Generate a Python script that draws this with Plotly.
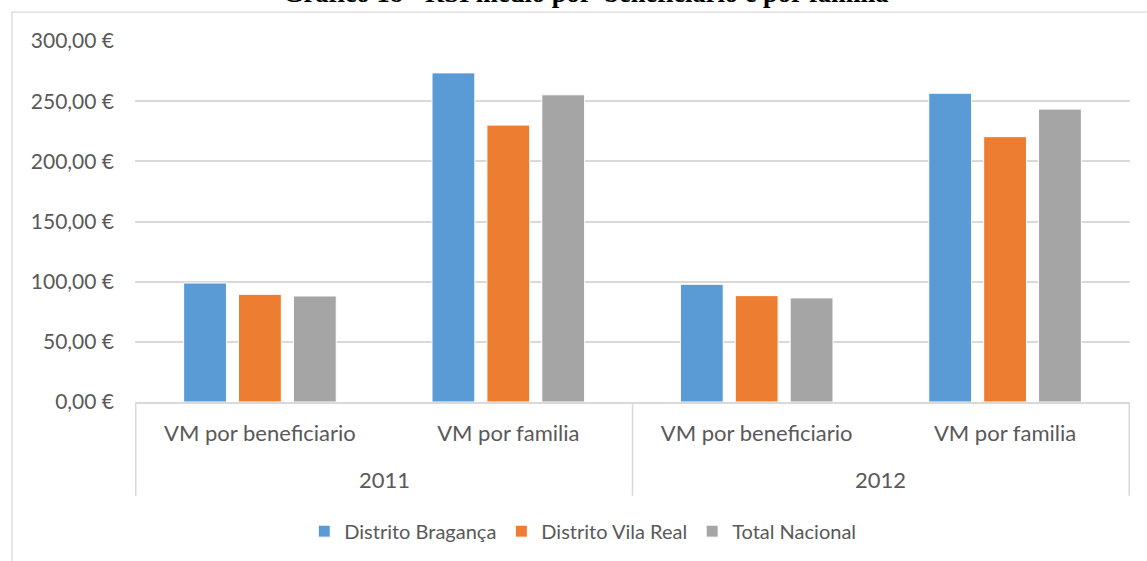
import plotly.graph_objects as go

years = ["2011", "2011", "2012", "2012"]
categories = ["VM por beneficiario", "VM por familia", "VM por beneficiario", "VM por familia"]
series_names = ["Distrito Bragança", "Distrito Vila Real", "Total Nacional"]
braganca = [98.9, 273.5, 97.8, 256.6]
vila_real = [89.5, 230.1, 88.4, 220.5]
total_nacional = [88.1, 255.3, 86.5, 243.4]
colors = ["#5B9BD5", "#ED7D31", "#A5A5A5"]
y_tickvals = [0, 50, 100, 150, 200, 250, 300]
y_ticktext = ["0,00 €", "50,00 €", "100,00 €", "150,00 €", "200,00 €", "250,00 €", "300,00 €"]
title_text = "Gráfico 18 - RSI médio por  beneficiário e por família"

FONT = "Lato"
GRID = "#d9d9d9"
TXT = "#595959"

# unique category keys for the x axis (year + category)
x_keys = [f"{y} | {c}" for y, c in zip(years, categories)]

fig = go.Figure()
for name, vals, col in zip(series_names, [braganca, vila_real, total_nacional], colors):
    fig.add_trace(go.Bar(
        x=x_keys, y=vals, name=name,
        marker=dict(color=col, line=dict(color="white", width=1)),
    ))

# year group labels and dividers
unique_years = list(dict.fromkeys(years))
annotations = []
for yr in unique_years:
    idx = [i for i, v in enumerate(years) if v == yr]
    annotations.append(dict(text=yr, xref="x", yref="paper", x=sum(idx) / len(idx), y=-0.2155,
                            xanchor="center", yanchor="middle", showarrow=False,
                            font=dict(family=FONT, size=22, color=TXT)))
annotations.append(dict(text="<b>" + title_text + "</b>", xref="paper", yref="paper",
                        x=0.453, y=1.133, xanchor="center", yanchor="middle", showarrow=False,
                        font=dict(family="Liberation Serif", size=26.5, color="black")))

boundaries = [-0.5] + [i + 0.5 for i in range(len(years) - 1) if years[i] != years[i + 1]] + [len(years) - 0.5]
shapes = [dict(type="line", xref="x", yref="paper", x0=b, x1=b, y0=0, y1=-0.2597,
               line=dict(color=GRID, width=1.5)) for b in boundaries]
shapes.append(dict(type="rect", xref="paper", yref="paper", x0=-0.1236, x1=1.06, y0=-0.47, y1=1.0801,
                   line=dict(color=GRID, width=1.3), fillcolor="rgba(0,0,0,0)", layer="below"))

fig.update_layout(
    width=1147, height=561,
    margin=dict(l=135, r=17, t=41, b=158),
    paper_bgcolor="white", plot_bgcolor="white",
    barmode="group", bargap=0.337, bargroupgap=0.22,
    font=dict(family=FONT, color=TXT, size=22),
    showlegend=True,
    legend=dict(orientation="h", x=0.45, xanchor="center", y=-0.354, yanchor="middle",
                font=dict(family=FONT, size=20, color=TXT), traceorder="normal"),
    annotations=annotations,
    shapes=shapes,
)
fig.update_yaxes(range=[0, 300], tickvals=y_tickvals, ticktext=y_ticktext,
                 showgrid=True, gridcolor=GRID, gridwidth=1.5, zeroline=False,
                 showline=False, ticklabelstandoff=20,
                 tickfont=dict(family=FONT, size=21, color=TXT))
fig.update_xaxes(type="category", tickvals=x_keys, ticktext=categories,
                 showline=True, linecolor=GRID, linewidth=1.5, showgrid=False,
                 ticklabelstandoff=11,
                 tickfont=dict(family=FONT, size=22, color=TXT))

fig.write_html("out.html", config={"displayModeBar": False},
               post_script="document.body.style.margin='0px';")
